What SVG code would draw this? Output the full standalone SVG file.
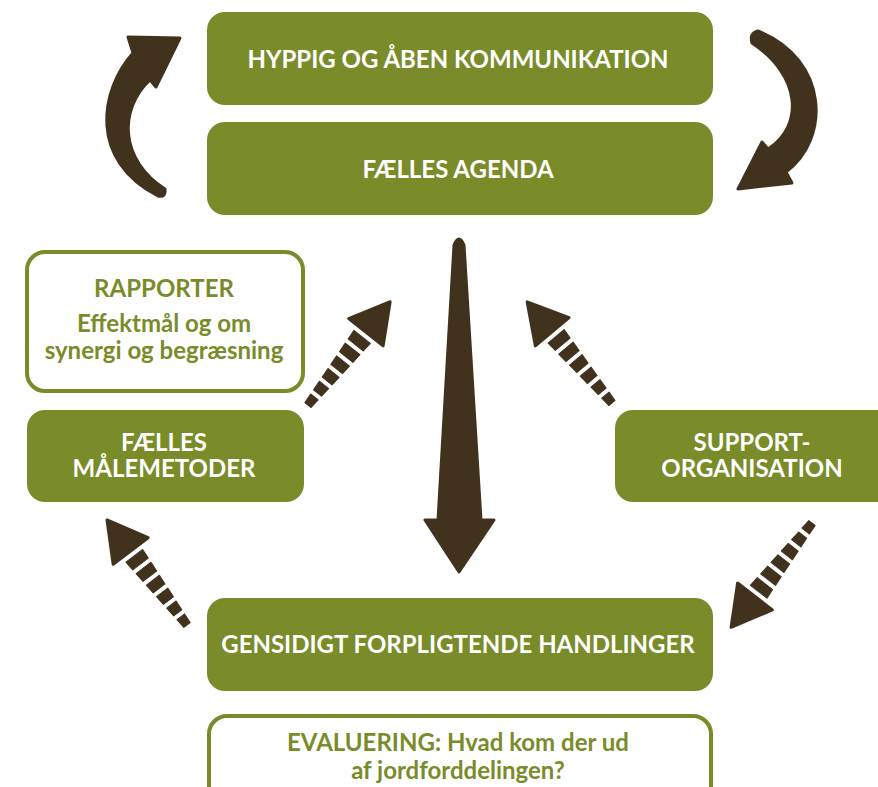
<svg xmlns="http://www.w3.org/2000/svg" width="878" height="787" viewBox="0 0 878 787">
<style>
.box{fill:#7a8b29}
.obox{fill:#fff;stroke:#7a8b29;stroke-width:4}
.wt{font-family:Lato,"Liberation Sans",sans-serif;font-weight:bold;font-size:24px;fill:#fff;text-anchor:middle}
.gt{font-family:Lato,"Liberation Sans",sans-serif;font-weight:bold;font-size:24px;fill:#7a8b29;text-anchor:middle}
.arr{fill:#41321e;stroke:#41321e;stroke-width:3;stroke-linejoin:round}
.st{fill:#41321e;stroke:#41321e;stroke-width:1;stroke-linejoin:round}
</style>
<defs>
<g id="darrow">
<polygon class="arr" points="132,0 93,-22 93,22"/>
<polygon class="st" points="0,-4 10.3,-4.8 10.3,4.8 0,4"/>
<polygon class="st" points="15.3,-5.1 25.7,-5.9 25.7,5.9 15.3,5.1"/>
<polygon class="st" points="30.7,-6.3 41,-7.1 41,7.1 30.7,6.3"/>
<polygon class="st" points="46,-7.4 56.3,-8.2 56.3,8.2 46,7.4"/>
<polygon class="st" points="61.3,-8.6 71.7,-9.4 71.7,9.4 61.3,8.6"/>
<polygon class="st" points="76.7,-9.7 87,-10.5 87,10.5 76.7,9.7"/>
</g>
</defs>
<g id="n1"><rect class="box" x="207" y="12" width="506" height="93" rx="18"/><text class="wt" x="458" y="68">HYPPIG OG ÅBEN KOMMUNIKATION</text></g>
<g id="n2"><rect class="box" x="207" y="122" width="506" height="93" rx="18"/><text class="wt" x="458" y="178">FÆLLES AGENDA</text></g>
<g id="n3"><rect class="obox" x="27" y="252" width="276" height="139" rx="18"/><text class="gt" x="164" y="297">RAPPORTER</text><text class="gt" x="164" y="332">Effektmål og om</text><text class="gt" x="164" y="359">synergi og begræsning</text></g>
<g id="n4"><rect class="box" x="27" y="410" width="277" height="92" rx="18"/><text class="wt" x="164" y="451">FÆLLES</text><text class="wt" x="164" y="477">MÅLEMETODER</text></g>
<g id="n5"><rect class="box" x="615" y="410" width="280" height="92" rx="18"/><text class="wt" x="752" y="451">SUPPORT-</text><text class="wt" x="752" y="477">ORGANISATION</text></g>
<g id="n6"><rect class="box" x="207" y="598" width="506" height="93" rx="18"/><text class="wt" x="458" y="653">GENSIDIGT FORPLIGTENDE HANDLINGER</text></g>
<g id="n7"><rect class="obox" x="209" y="716" width="502" height="90" rx="18"/><text class="gt" x="458" y="751">EVALUERING: Hvad kom der ud</text><text class="gt" x="458" y="779">af jordforddelingen?</text></g>
<g id="connectors">
<path class="arr" d="M150,80 L156,87 L180,38 L128,37 L133,53 C100,90 88,160 158,196 Q166,198 165,189 C120,160 118,110 150,80 Z"/>
<path class="arr" d="M768,149 L762,142 L738,189 L792,183 L786,172 C830,140 830,60 758,31 Q749,33 752,43 C800,75 805,125 768,149 Z"/>
<path class="arr" d="M454,245 Q459,233 464,245 L481,520 L494,520 L459,572 L425,520 L438,520 Z"/>
<use href="#darrow" transform="translate(308,405) rotate(-51.5)"/>
<use href="#darrow" transform="translate(612,403) rotate(-130)"/>
<use href="#darrow" transform="translate(187,625) rotate(-127.3)"/>
<use href="#darrow" transform="translate(812,523) rotate(127.8)"/>
</g>
</svg>
